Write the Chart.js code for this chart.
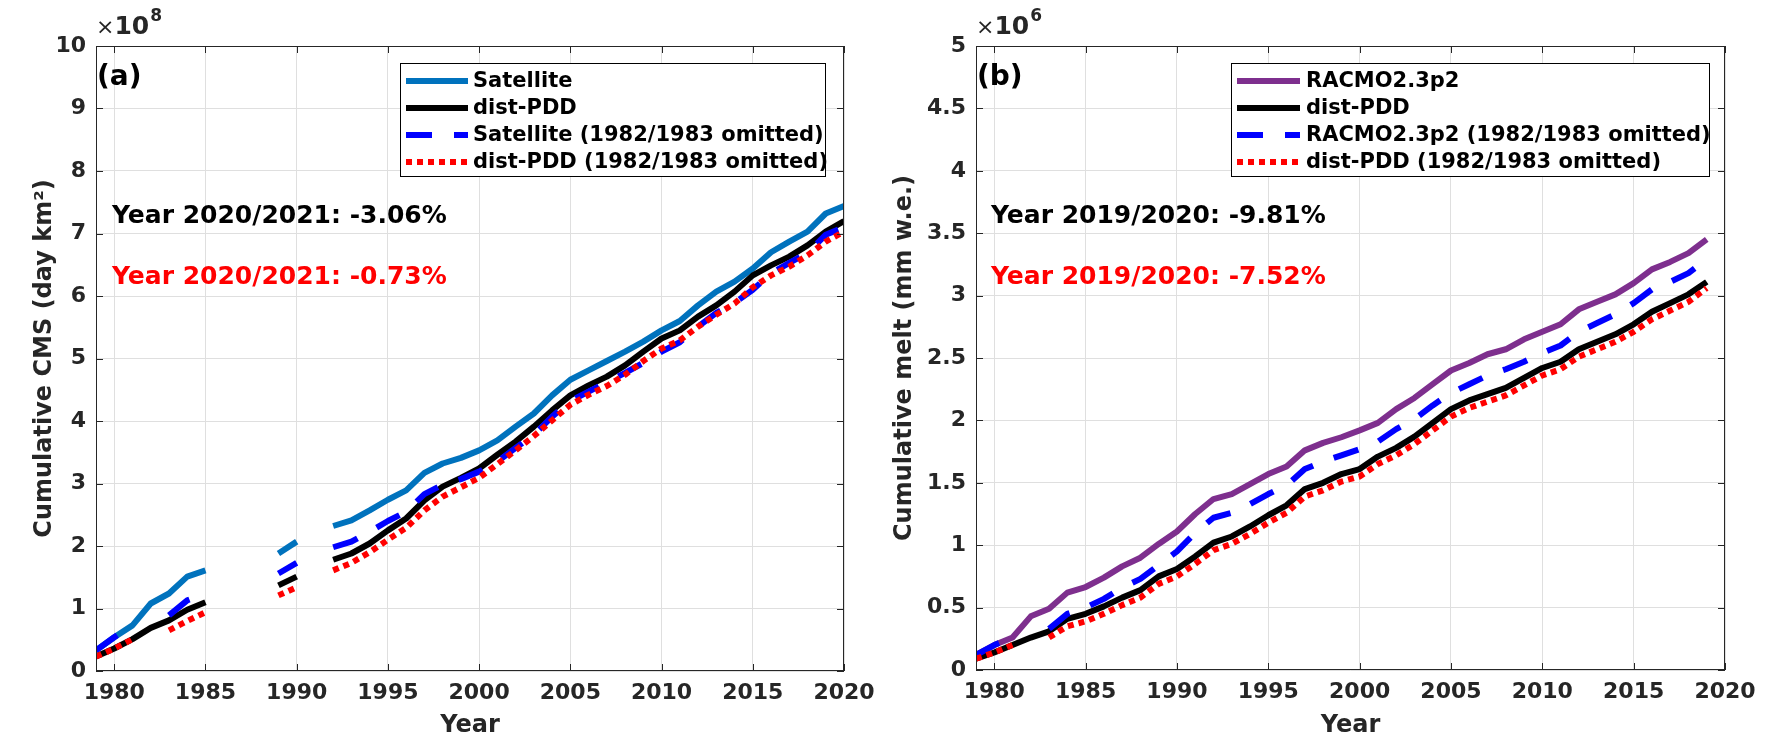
<!DOCTYPE html>
<html>
<head>
<meta charset="utf-8">
<script src="https://cdn.jsdelivr.net/npm/chart.js@4.4.1/dist/chart.umd.min.js"></script>
<style>
  html, body { margin: 0; padding: 0; background: #fff; }
  #wrap { position: relative; width: 1772px; height: 750px; }
  .panel { position: absolute; top: 0; width: 886px; height: 750px; }
</style>
</head>
<body>
<div id="wrap">
  <div class="panel" style="left:0"><canvas id="chartA"></canvas></div>
  <div class="panel" style="left:886px"><canvas id="chartB"></canvas></div>
</div>
<script>
// panel (a): cumulative CMS, x10^8 day km2
const yearsA = [1979,1980,1981,1982,1983,1984,1985,1986,1987,1988,1989,1990,1991,1992,1993,1994,1995,1996,1997,1998,1999,
                2000,2001,2002,2003,2004,2005,2006,2007,2008,2009,2010,2011,2012,2013,2014,2015,2016,2017,2018,2019,2020];
const satellite     = [0.33,0.54,0.73,1.08,1.24,1.51,1.61,null,null,null,1.88,2.07,null,2.32,2.41,2.57,2.74,2.89,3.17,3.32,3.41,
                       3.53,3.69,3.91,4.12,4.41,4.66,4.81,4.96,5.11,5.27,5.45,5.60,5.85,6.07,6.23,6.44,6.70,6.87,7.03,7.32,7.44];
const pddA          = [0.23,0.36,0.51,0.69,0.81,0.98,1.10,null,null,null,1.37,1.51,null,1.78,1.88,2.04,2.25,2.44,2.73,2.95,3.09,
                       3.24,3.46,3.67,3.91,4.17,4.41,4.57,4.71,4.89,5.11,5.32,5.45,5.67,5.85,6.07,6.33,6.49,6.63,6.81,7.03,7.20];
const satelliteOmit = [0.33,0.54,0.73,null,0.89,1.13,1.24,null,null,null,1.56,1.73,null,1.98,2.07,2.23,2.40,2.55,2.83,2.98,3.07,
                       3.19,3.35,3.57,3.78,4.07,4.32,4.47,4.62,4.77,4.93,5.11,5.26,5.51,5.73,5.89,6.10,6.36,6.53,6.69,6.98,7.10];
const pddOmitA      = [0.23,0.36,0.51,null,0.65,0.80,0.94,null,null,null,1.21,1.34,null,1.61,1.73,1.90,2.10,2.29,2.57,2.79,2.94,
                       3.09,3.31,3.53,3.76,4.01,4.26,4.42,4.56,4.74,4.96,5.16,5.29,5.51,5.70,5.88,6.14,6.33,6.47,6.65,6.87,7.03];

// panel (b): cumulative melt, x10^6 mm w.e.
const yearsB = [1979,1980,1981,1982,1983,1984,1985,1986,1987,1988,1989,1990,1991,1992,1993,1994,1995,1996,1997,1998,1999,
                2000,2001,2002,2003,2004,2005,2006,2007,2008,2009,2010,2011,2012,2013,2014,2015,2016,2017,2018,2019];
const racmo     = [0.12,0.20,0.26,0.43,0.49,0.62,0.665,0.74,0.83,0.90,1.01,1.11,1.25,1.37,1.41,1.49,1.57,1.63,1.76,1.82,1.865,
                   1.92,1.98,2.09,2.18,2.29,2.40,2.46,2.53,2.57,2.65,2.71,2.77,2.89,2.95,3.01,3.10,3.21,3.27,3.34,3.45];
const pddB      = [0.09,0.14,0.20,0.26,0.31,0.41,0.45,0.51,0.58,0.64,0.75,0.81,0.91,1.02,1.07,1.15,1.24,1.32,1.45,1.50,1.57,
                   1.61,1.71,1.78,1.87,1.98,2.09,2.16,2.21,2.26,2.34,2.42,2.47,2.57,2.63,2.69,2.77,2.87,2.94,3.01,3.11];
const racmoOmit = [0.12,0.20,0.26,null,0.33,0.45,0.50,0.57,0.66,0.73,0.84,0.95,1.10,1.22,1.26,1.33,1.41,1.48,1.61,1.67,1.72,
                   1.77,1.83,1.93,2.01,2.12,2.22,2.29,2.36,2.41,2.47,2.54,2.60,2.71,2.78,2.85,2.94,3.05,3.11,3.18,3.29];
const pddOmitB  = [0.09,0.14,0.20,null,0.26,0.35,0.39,0.45,0.52,0.58,0.69,0.75,0.85,0.96,1.01,1.09,1.18,1.26,1.39,1.44,1.51,
                   1.55,1.65,1.72,1.81,1.92,2.03,2.10,2.15,2.20,2.28,2.36,2.41,2.51,2.57,2.63,2.71,2.81,2.88,2.95,3.06];

const xTicks = [1980, 1985, 1990, 1995, 2000, 2005, 2010, 2015, 2020];
const yTicksA = [0, 1, 2, 3, 4, 5, 6, 7, 8, 9, 10];
const yTicksB = [0, 0.5, 1, 1.5, 2, 2.5, 3, 3.5, 4, 4.5, 5];

const labelsA = ['Satellite', 'dist-PDD', 'Satellite (1982/1983 omitted)', 'dist-PDD (1982/1983 omitted)'];
const labelsB = ['RACMO2.3p2', 'dist-PDD', 'RACMO2.3p2 (1982/1983 omitted)', 'dist-PDD (1982/1983 omitted)'];
const notesA = ['Year 2020/2021: -3.06%', 'Year 2020/2021: -0.73%'];
const notesB = ['Year 2019/2020: -9.81%', 'Year 2019/2020: -7.52%'];

const FONT = 'DejaVu Sans';
const AXIS_COLOR = '#262626';

function series(years, vals, label, color, dash, order) {
    return {
        label: label,
        order: order,
        data: years.map((yr, i) => ({ x: yr, y: vals[i] })),
        borderColor: color,
        backgroundColor: color,
        borderWidth: 6,
        borderDash: dash,
        borderCapStyle: 'butt',
        borderJoinStyle: 'round',
        pointRadius: 0,
        pointHoverRadius: 0,
        tension: 0,
        spanGaps: false,
        fill: false
    };
}

// box, inward ticks, exponent, panel letter, notes and legend
const decorPlugin = {
    id: 'decor',
    afterDraw(chart, args, o) {
        const ctx = chart.ctx;
        const a = chart.chartArea;
        const xs = chart.scales.x, ys = chart.scales.y;
        ctx.save();

        ctx.strokeStyle = AXIS_COLOR;
        ctx.lineWidth = 1;
        ctx.setLineDash([]);
        ctx.beginPath();
        xs.ticks.forEach(t => {
            const px = Math.round(xs.getPixelForValue(t.value)) + 0.5;
            ctx.moveTo(px, a.bottom); ctx.lineTo(px, a.bottom - 7);
            ctx.moveTo(px, a.top); ctx.lineTo(px, a.top + 7);
        });
        ys.ticks.forEach(t => {
            const py = Math.round(ys.getPixelForValue(t.value)) + 0.5;
            ctx.moveTo(a.left, py); ctx.lineTo(a.left + 7, py);
            ctx.moveTo(a.right, py); ctx.lineTo(a.right - 7, py);
        });
        ctx.stroke();
        ctx.strokeRect(a.left + 0.5, a.top + 0.5, a.right - a.left - 1, a.bottom - a.top - 1);

        // x10^n
        ctx.fillStyle = AXIS_COLOR;
        ctx.textBaseline = 'alphabetic';
        ctx.textAlign = 'left';
        ctx.font = '22px ' + FONT;
        ctx.fillText('\u00d7', o.exp.x, 34);
        let ex = o.exp.x + ctx.measureText('\u00d7').width;
        ctx.font = 'bold 25px ' + FONT;
        ctx.fillText('10', ex, 34);
        ex += ctx.measureText('10').width + 1;
        ctx.font = 'bold 17px ' + FONT;
        ctx.fillText(o.exp.pow, ex, 21);

        // panel letter
        ctx.fillStyle = '#000';
        ctx.textBaseline = 'middle';
        ctx.font = 'bold 28px ' + FONT;
        ctx.fillText(o.panel.text, o.panel.x, o.panel.y);

        // percentage notes
        ctx.font = 'bold 25px ' + FONT;
        ctx.fillStyle = '#000000';
        ctx.fillText(o.notes.text[0], o.notes.x, o.notes.y[0]);
        ctx.fillStyle = '#ff0000';
        ctx.fillText(o.notes.text[1], o.notes.x, o.notes.y[1]);

        // legend
        const L = o.legend;
        ctx.fillStyle = '#fff';
        ctx.fillRect(L.l, L.t, L.r - L.l, L.b - L.t);
        ctx.strokeStyle = '#000';
        ctx.lineWidth = 1;
        ctx.strokeRect(L.l + 0.5, L.t + 0.5, L.r - L.l, L.b - L.t);
        ctx.font = 'bold 21px ' + FONT;
        chart.data.datasets.forEach((ds, i) => {
            const yy = L.rows[i];
            ctx.beginPath();
            ctx.setLineDash(ds.borderDash);
            ctx.lineDashOffset = 0;
            ctx.strokeStyle = ds.borderColor;
            ctx.lineWidth = ds.borderWidth;
            ctx.lineCap = 'butt';
            ctx.moveTo(L.x0, yy);
            ctx.lineTo(L.x1, yy);
            ctx.stroke();
            ctx.setLineDash([]);
            ctx.fillStyle = '#000';
            ctx.fillText(ds.label, L.tx, yy + 1);
        });
        ctx.restore();
    }
};

function makeChart(id, g) {
    const ctx = document.getElementById(id).getContext('2d');
    return new Chart(ctx, {
        type: 'line',
        data: { datasets: g.datasets },
        plugins: [decorPlugin],
        options: {
            responsive: true,
            maintainAspectRatio: false,
            animation: false,
            events: [],
            layout: { padding: { left: 0, top: g.top, right: g.right, bottom: 0 } },
            plugins: {
                legend: { display: false },
                tooltip: { enabled: false },
                decor: g.decor
            },
            scales: {
                x: {
                    type: 'linear',
                    min: 1979,
                    max: 2020,
                    afterBuildTicks: s => { s.ticks = xTicks.map(v => ({ value: v })); },
                    afterFit: s => { s.height = g.xHeight; },
                    grid: { color: '#dfdfdf', lineWidth: 1, drawTicks: false },
                    border: { display: false },
                    ticks: {
                        color: AXIS_COLOR,
                        font: { family: FONT, size: 22, weight: 'bold' },
                        padding: 9,
                        maxRotation: 0,
                        autoSkip: false,
                        callback: v => String(v)
                    },
                    title: {
                        display: true,
                        text: 'Year',
                        color: AXIS_COLOR,
                        font: { family: FONT, size: 24, weight: 'bold' },
                        padding: { top: 0, bottom: 9.6 }
                    }
                },
                y: {
                    type: 'linear',
                    min: 0,
                    max: g.yMax,
                    afterBuildTicks: s => { s.ticks = g.yTicks.map(v => ({ value: v })); },
                    afterFit: s => { s.width = g.yWidth; },
                    grid: { color: '#dfdfdf', lineWidth: 1, drawTicks: false },
                    border: { display: false },
                    ticks: {
                        color: AXIS_COLOR,
                        font: { family: FONT, size: 22, weight: 'bold' },
                        padding: 10,
                        autoSkip: false,
                        callback: v => String(v)
                    },
                    title: {
                        display: true,
                        text: g.yTitle,
                        color: AXIS_COLOR,
                        font: { family: FONT, size: 24, weight: 'bold' },
                        padding: { top: g.yTitlePad, bottom: 0 }
                    }
                }
            }
        }
    });
}

makeChart('chartA', {
    datasets: [
        series(yearsA, satellite, labelsA[0], '#0072BD', [], 4),
        series(yearsA, pddA, labelsA[1], '#000000', [], 3),
        series(yearsA, satelliteOmit, labelsA[2], '#0000FF', [26, 22], 2),
        series(yearsA, pddOmitA, labelsA[3], '#FF0000', [6, 5], 1)
    ],
    top: 46, right: 42, xHeight: 79, yWidth: 96, yMax: 10, yTicks: yTicksA,
    yTitle: 'Cumulative CMS (day km\u00b2)', yTitlePad: 30,
    decor: {
        exp: { x: 96, pow: '8' },
        panel: { text: '(a)', x: 97, y: 78 },
        notes: { text: notesA, x: 112, y: [216, 277] },
        legend: { l: 400, t: 63, r: 825, b: 176, x0: 406, x1: 468, tx: 473, rows: [81, 108, 135, 162] }
    }
});

makeChart('chartB', {
    datasets: [
        series(yearsB, racmo, labelsB[0], '#7E2F8E', [], 4),
        series(yearsB, pddB, labelsB[1], '#000000', [], 3),
        series(yearsB, racmoOmit, labelsB[2], '#0000FF', [26, 22], 2),
        series(yearsB, pddOmitB, labelsB[3], '#FF0000', [6, 5], 1)
    ],
    top: 46, right: 47, xHeight: 80, yWidth: 90, yMax: 5, yTicks: yTicksB,
    yTitle: 'Cumulative melt (mm w.e.)', yTitlePad: 4.6,
    decor: {
        exp: { x: 90, pow: '6' },
        panel: { text: '(b)', x: 91, y: 78 },
        notes: { text: notesB, x: 105, y: [216, 277] },
        legend: { l: 345, t: 63, r: 823, b: 176, x0: 351, x1: 414, tx: 420, rows: [81, 108, 135, 162] }
    }
});
</script>
</body>
</html>
